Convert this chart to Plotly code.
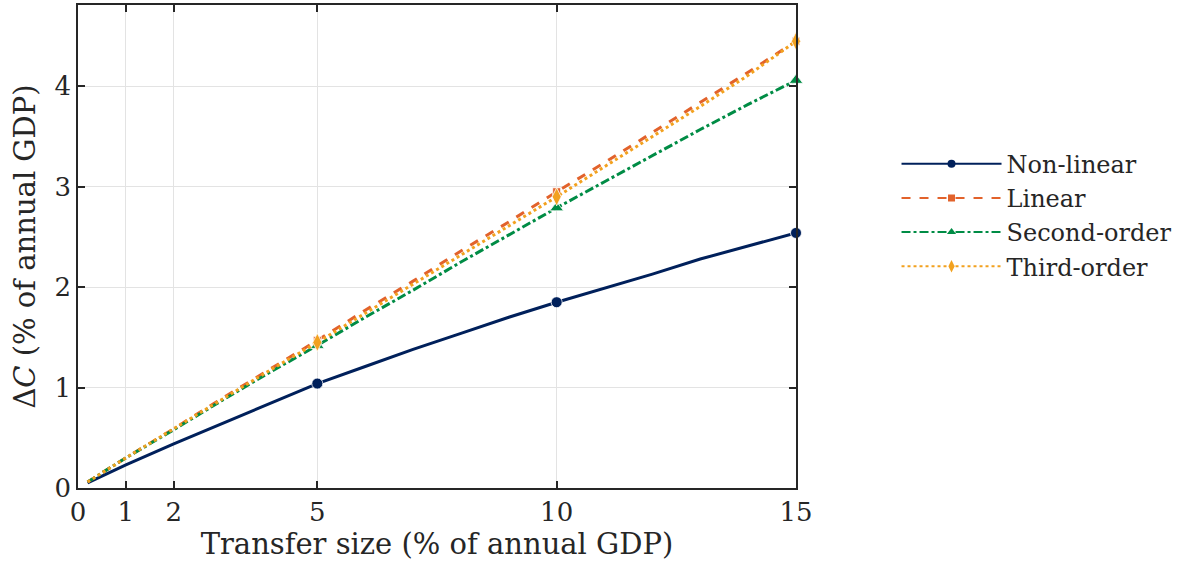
import plotly.graph_objects as go

transfer = [0.2, 1, 2, 3, 4, 5, 6, 7, 8, 9, 10, 11, 12, 13, 14, 15]
nonlinear = [0.05, 0.23, 0.44, 0.64, 0.84, 1.04, 1.21, 1.38, 1.54, 1.70, 1.85, 1.99, 2.13, 2.28, 2.41, 2.54]
linear = [0.06, 0.30, 0.59, 0.89, 1.18, 1.47, 1.77, 2.06, 2.36, 2.65, 2.95, 3.24, 3.54, 3.84, 4.14, 4.45]
second = [0.06, 0.30, 0.58, 0.87, 1.15, 1.42, 1.70, 1.97, 2.25, 2.52, 2.79, 3.05, 3.31, 3.57, 3.82, 4.06]
third = [0.06, 0.30, 0.59, 0.88, 1.17, 1.45, 1.74, 2.03, 2.32, 2.61, 2.90, 3.20, 3.50, 3.80, 4.11, 4.45]

marker_x = [5, 10, 15]
x_ticks = [0, 1, 2, 5, 10, 15]
y_ticks = [0, 1, 2, 3, 4]

series = [
    ("Non-linear", nonlinear, "#00205b", "solid", "circle", 11, 8),
    ("Linear", linear, "#e2622b", "dash", "square", 8, 7),
    ("Second-order", second, "#008c45", "dashdot", "triangle-up", 12, 8),
    ("Third-order", third, "#f2a11f", "dot", "diamond-tall", 13, 9),
]

FONT = "DejaVu Serif"
fig = go.Figure()
for name, ys, color, dash, sym, msize, lsize in series:
    fig.add_trace(go.Scatter(x=transfer, y=ys, mode="lines", showlegend=False,
                             line=dict(color=color, width=3, dash=dash), hoverinfo="skip"))
    my = [ys[transfer.index(v)] for v in marker_x]
    fig.add_trace(go.Scatter(x=marker_x, y=my, mode="markers", showlegend=False,
                             marker=dict(symbol=sym, size=msize, color=color,
                                         line=dict(color="white", width=0.8)),
                             cliponaxis=False))
    fig.add_trace(go.Scatter(x=[None], y=[None], mode="lines+markers", name=name,
                             line=dict(color=color, width=2, dash=dash),
                             marker=dict(symbol=sym, size=lsize, color=color)))

axis_common = dict(showline=True, linecolor="#262626", linewidth=1.5, mirror="ticks",
                   ticks="inside", ticklen=7, tickwidth=1.5, tickcolor="#262626",
                   showgrid=True, gridcolor="#e3e3e3", gridwidth=1, zeroline=False,
                   tickfont=dict(family=FONT, size=26, color="#262626"))

fig.update_xaxes(range=[0, 15], tickvals=x_ticks, ticktext=[str(v) for v in x_ticks],
                 title=dict(text="Transfer size (% of annual GDP)", standoff=6,
                            font=dict(family=FONT, size=29, color="#262626")),
                 **axis_common)
fig.update_yaxes(range=[0, 4.81], tickvals=y_ticks, ticktext=[str(v) for v in y_ticks],
                 title=dict(text="Δ<i>C</i> (% of annual GDP)", standoff=10,
                            font=dict(family=FONT, size=29, color="#262626")),
                 **axis_common)

fig.update_layout(
    width=1184, height=576,
    margin=dict(l=78, r=388, t=5, b=88, autoexpand=False),
    plot_bgcolor="white", paper_bgcolor="white",
    font=dict(family=FONT, size=24, color="#262626"),
    legend=dict(x=1.14, y=0.565, xanchor="left", yanchor="middle",
                font=dict(family=FONT, size=24, color="#262626"),
                bgcolor="rgba(0,0,0,0)", tracegroupgap=0, itemwidth=100),
)

fig.write_html("out.html")
